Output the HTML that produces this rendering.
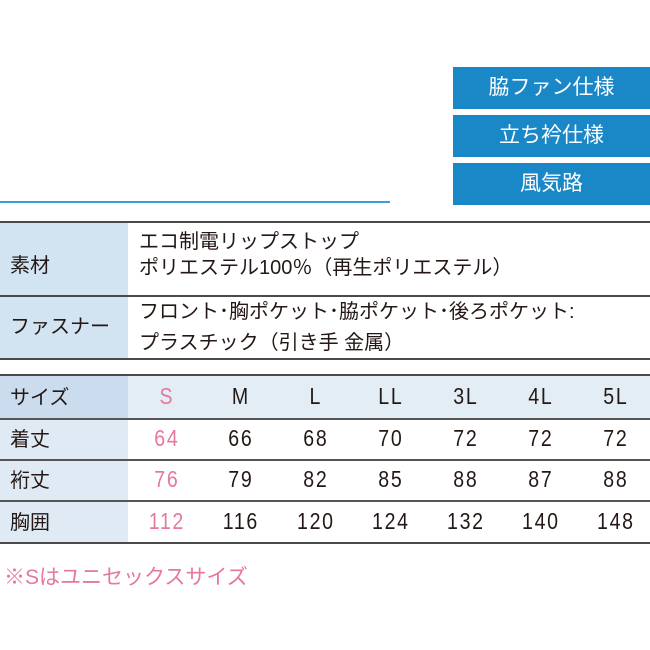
<!DOCTYPE html>
<html><head><meta charset="utf-8"><style>
body{margin:0;width:650px;height:650px;background:#fff;position:relative;overflow:hidden;font-family:"Liberation Sans","Noto Sans CJK JP",sans-serif;color:#231815}
.a{position:absolute;white-space:nowrap}
.bx{position:absolute;left:453px;width:197px;background:#1a87c6;color:#fff;font-size:21px;text-align:center}
.ln{position:absolute;left:0;width:650px;background:#4a4a4a}
.n{position:absolute;width:70px;text-align:center;font-size:23px;transform:scaleX(0.85);letter-spacing:2px;text-indent:2px}
.p{color:#e6789a}
</style></head><body>
<div class="bx" style="top:67px;height:42px;line-height:42px">脇ファン仕様</div>
<div class="bx" style="top:115px;height:42px;line-height:42px">立ち衿仕様</div>
<div class="bx" style="top:163px;height:42px;line-height:42px">風気路</div>
<div class="a" style="left:0;top:201px;width:390px;height:2px;background:#3a9ed8"></div>

<div class="a" style="left:0;top:223px;width:128px;height:136px;background:#d2e3f2"></div>
<div class="ln" style="top:221px;height:2px"></div>
<div class="ln" style="top:295px;height:2px"></div>
<div class="ln" style="top:358px;height:2px"></div>
<div class="a" style="left:10px;top:249px;font-size:20px">素材</div>
<div class="a" style="left:10px;top:310px;font-size:20px">ファスナー</div>
<div class="a" style="left:139px;top:229px;font-size:20px;line-height:26px">エコ制電リップストップ<br>ポリエステル100％（再生ポリエステル）</div>
<div class="a" style="left:139px;top:297px;font-size:20px;line-height:31px">フロント･胸ポケット･脇ポケット･後ろポケット:<br>プラスチック（引き手 金属）</div>

<div class="a" style="left:0;top:376px;width:650px;height:42px;background:#e3edf6"></div>
<div class="a" style="left:0;top:376px;width:128px;height:42px;background:#cadcee"></div>
<div class="a" style="left:0;top:418px;width:128px;height:125px;background:#dfeaf5"></div>
<div class="ln" style="top:374px;height:2px"></div>
<div class="ln" style="top:418px;height:2px;background:#555"></div>
<div class="ln" style="top:459px;height:2px;background:#555"></div>
<div class="ln" style="top:500px;height:2px;background:#555"></div>
<div class="ln" style="top:542px;height:2px"></div>
<div class="a" style="left:10px;top:381px;font-size:20px">サイズ</div>
<div class="a" style="left:10px;top:423px;font-size:20px">着丈</div>
<div class="a" style="left:10px;top:464px;font-size:20px">裄丈</div>
<div class="a" style="left:10px;top:506px;font-size:20px">胸囲</div>

<div class="n p" style="left:131px;top:383px">S</div><div class="n" style="left:205px;top:383px">M</div><div class="n" style="left:280px;top:383px">L</div><div class="n" style="left:355px;top:383px">LL</div><div class="n" style="left:430px;top:383px">3L</div><div class="n" style="left:505px;top:383px">4L</div><div class="n" style="left:580px;top:383px">5L</div>
<div class="n p" style="left:131px;top:425px">64</div><div class="n" style="left:205px;top:425px">66</div><div class="n" style="left:280px;top:425px">68</div><div class="n" style="left:355px;top:425px">70</div><div class="n" style="left:430px;top:425px">72</div><div class="n" style="left:505px;top:425px">72</div><div class="n" style="left:580px;top:425px">72</div>
<div class="n p" style="left:131px;top:466px">76</div><div class="n" style="left:205px;top:466px">79</div><div class="n" style="left:280px;top:466px">82</div><div class="n" style="left:355px;top:466px">85</div><div class="n" style="left:430px;top:466px">88</div><div class="n" style="left:505px;top:466px">87</div><div class="n" style="left:580px;top:466px">88</div>
<div class="n p" style="left:131px;top:508px">112</div><div class="n" style="left:205px;top:508px">116</div><div class="n" style="left:280px;top:508px">120</div><div class="n" style="left:355px;top:508px">124</div><div class="n" style="left:430px;top:508px">132</div><div class="n" style="left:505px;top:508px">140</div><div class="n" style="left:580px;top:508px">148</div>

<div class="a p" style="left:4px;top:561px;font-size:21px">※Sはユニセックスサイズ</div>
</body></html>
